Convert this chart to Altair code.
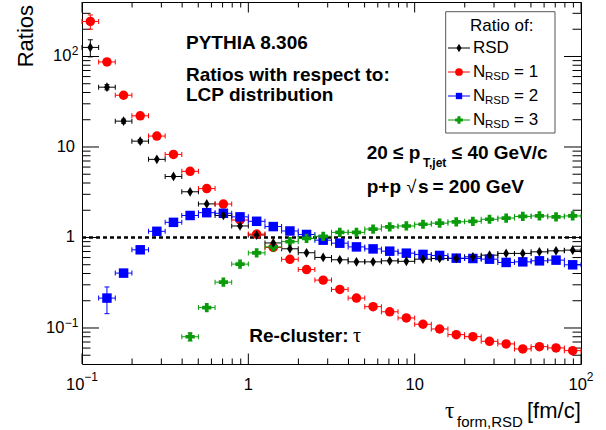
import altair as alt
import numpy as np
import pandas as pd

# ---------------- data ----------------
# 30 log-spaced bins of tau_form between 0.1 and 100 fm/c
bin_edges = np.logspace(-1, 2, 31)

rsd = [126, 45.8, 19.3, 11.6, 7.3, 4.72, 3.2, 2.35, 1.75, 1.34,
       1.065, 0.87, 0.75, 0.678, 0.602, 0.567, 0.538, 0.538, 0.552, 0.545,
       0.576, 0.586, 0.586, 0.611, 0.638, 0.667, 0.667, 0.694, 0.712, 0.725]
rsd_err = [27, 3, 1, 0.5, 0, 0, 0, 0, 0, 0,
           0, 0, 0, 0, 0, 0, 0, 0, 0, 0,
           0, 0, 0, 0, 0, 0, 0, 0, 0, 0]

n1 = [244, 87, 37.3, 22.1, 13.2, 8.28, 5.38, 3.47, 2.34, 1.56,
      1.09, 0.776, 0.574, 0.442, 0.338, 0.267, 0.214, 0.172, 0.151, 0.129,
      0.110, 0.0975, 0.0844, 0.0802, 0.0713, 0.0667, 0.0587, 0.0622, 0.0602, 0.0562]
n1_err = [44, 5, 0, 0, 0, 0, 0, 0, 0, 0,
          0, 0, 0, 0, 0, 0, 0, 0, 0, 0,
          0, 0, 0, 0, 0, 0, 0, 0, 0, 0]

n2 = [None, 0.214, 0.404, 0.731, 1.17, 1.47, 1.75, 1.88, 1.85, 1.69,
      1.51, 1.32, 1.18, 1.08, 0.934, 0.865, 0.787, 0.748, 0.706, 0.671,
      0.650, 0.633, 0.591, 0.586, 0.576, 0.530, 0.538, 0.552, 0.562, 0.499]
n2_err = [0, 0.07, 0.025, 0, 0, 0, 0, 0, 0, 0,
          0, 0, 0, 0, 0, 0, 0, 0, 0, 0,
          0, 0, 0, 0, 0, 0, 0, 0, 0, 0]

n3 = [None, None, None, None, None, None, 0.080, 0.168, 0.321, 0.508,
      0.676, 0.787, 0.90, 0.977, 1.03, 1.14, 1.14, 1.24, 1.31, 1.34,
      1.40, 1.44, 1.49, 1.51, 1.59, 1.64, 1.71, 1.73, 1.69, 1.73]
n3_err = [0, 0, 0, 0, 0, 0, 0.008, 0, 0, 0,
          0, 0, 0, 0, 0, 0, 0, 0, 0, 0,
          0, 0, 0, 0, 0, 0, 0, 0, 0, 0]

x_tick_major = [0.1, 1, 10, 100]
x_tick_minor = [0.2, 0.3, 0.4, 0.5, 0.6, 0.7, 0.8, 0.9,
                2, 3, 4, 5, 6, 7, 8, 9, 20, 30, 40, 50, 60, 70, 80, 90]
y_tick_major = [0.1, 1, 10, 100]
y_tick_minor = [0.05, 0.06, 0.07, 0.08, 0.09,
                0.2, 0.3, 0.4, 0.5, 0.6, 0.7, 0.8, 0.9,
                2, 3, 4, 5, 6, 7, 8, 9, 20, 30, 40, 50, 60, 70, 80, 90,
                200, 300]

# tick labels: base text and superscript
label_vals = [0.1, 1, 10, 100]
label_base = ["10", "1", "10", "10"]
label_sup = ["\u22121", "", "", "2"]

# ---------------- styling ----------------
W, H = 499, 362
FONT = "Liberation Sans"
GREEN = "#0a9a0a"
THIN_DIAMOND = "M0,-1L0.6,0L0,1L-0.6,0Z"
LBL = 16.5   # tick label size
SUP = 12     # superscript size

series = [
    # name, values, errors, color, shape, size, legend size
    ("RSD", rsd, rsd_err, "black", THIN_DIAMOND, 95, 70),
    ("N1", n1, n1_err, "#ff0000", "circle", 90, 60),
    ("N2", n2, n2_err, "#0000ff", "square", 90, 40),
    ("N3", n3, n3_err, GREEN, "cross", 85, 60),
]

xlo = bin_edges[:-1]
xhi = bin_edges[1:]
xc = np.sqrt(xlo * xhi)

xs = alt.Scale(type="log", domain=[0.1, 100], nice=False)
ys = alt.Scale(type="log", domain=[0.04, 400], nice=False)

xaxis = alt.Axis(values=x_tick_major, labels=False, domain=False, ticks=False,
                 tickSize=0, grid=False, title=None)
yaxis = alt.Axis(values=y_tick_major, labels=False, domain=False, ticks=False,
                 tickSize=0, grid=False, title=None)


def X(f):
    return alt.X(f"{f}:Q", scale=xs, axis=xaxis, title=None)


def Y(f):
    return alt.Y(f"{f}:Q", scale=ys, axis=yaxis, title=None)


layers = []


# frame ticks (inside, ROOT style)
def yticks(vals, length):
    df = pd.DataFrame({"v": vals})
    l = alt.Chart(df).mark_rule(color="black", strokeWidth=1).encode(
        y=Y("v"), x=alt.value(0), x2=alt.value(length))
    r = alt.Chart(df).mark_rule(color="black", strokeWidth=1).encode(
        y=Y("v"), x=alt.value(W - length), x2=alt.value(W))
    return [l, r]


def xticks(vals, length):
    df = pd.DataFrame({"v": vals})
    b = alt.Chart(df).mark_rule(color="black", strokeWidth=1).encode(
        x=X("v"), y=alt.value(H - length), y2=alt.value(H))
    t = alt.Chart(df).mark_rule(color="black", strokeWidth=1).encode(
        x=X("v"), y=alt.value(0), y2=alt.value(length))
    return [b, t]


layers += yticks(y_tick_major, 17) + yticks(y_tick_minor, 8.5)
layers += xticks(x_tick_major, 10.5) + xticks(x_tick_minor, 5.5)

# tick labels (with real superscripts)
XLAB_Y = 382.5
for v, b, s in zip(label_vals, label_base, label_sup):
    d = pd.DataFrame({"v": [v], "b": [b], "s": [s]})
    if s:
        wb = 0.556 * LBL * len(b)
        ws = (0.584 * SUP if s.startswith("\u2212") else 0) + 0.556 * SUP * len(s.lstrip("\u2212"))
        left = -(wb + ws) / 2
        # x axis
        layers.append(alt.Chart(d).mark_text(font=FONT, fontSize=LBL, align="left", dx=left,
                                             color="black").encode(
            x=X("v"), y=alt.value(XLAB_Y), text="b:N"))
        layers.append(alt.Chart(d).mark_text(font=FONT, fontSize=SUP, align="left", dx=left + wb,
                                             color="black").encode(
            x=X("v"), y=alt.value(XLAB_Y - 8), text="s:N"))
        # y axis
        layers.append(alt.Chart(d).mark_text(font=FONT, fontSize=SUP, align="right",
                                             baseline="alphabetic", dy=-1, color="black").encode(
            y=Y("v"), x=alt.value(-3.5), text="s:N"))
        layers.append(alt.Chart(d).mark_text(font=FONT, fontSize=LBL, align="right",
                                             baseline="middle", color="black").encode(
            y=Y("v"), x=alt.value(-3.5 - ws - 0.5), text="b:N"))
    else:
        layers.append(alt.Chart(d).mark_text(font=FONT, fontSize=LBL, align="center",
                                             color="black").encode(
            x=X("v"), y=alt.value(XLAB_Y), text="b:N"))
        layers.append(alt.Chart(d).mark_text(font=FONT, fontSize=LBL, align="right",
                                             baseline="middle", color="black").encode(
            y=Y("v"), x=alt.value(-7), text="b:N"))

# dashed reference line at 1
layers.append(
    alt.Chart(pd.DataFrame({"v": [1.0]})).mark_rule(
        color="black", strokeWidth=2.5, strokeDash=[4, 3]).encode(
        y=Y("v"), x=alt.value(0), x2=alt.value(W))
)

# error bars
for name, vals, errs, color, shape, size, lsize in series:
    rows = []
    for i, v in enumerate(vals):
        if v is None:
            continue
        rows.append({"x": xc[i], "xlo": xlo[i], "xhi": xhi[i], "y": v,
                     "ylo": max(v - errs[i], 0.041), "yhi": v + errs[i], "e": errs[i]})
    df = pd.DataFrame(rows)
    layers.append(alt.Chart(df).mark_rule(color=color, strokeWidth=1).encode(
        x=X("xlo"), x2=alt.X2("xhi"), y=Y("y")))
    caps = pd.concat([df[["xlo", "y"]].rename(columns={"xlo": "xc"}),
                      df[["xhi", "y"]].rename(columns={"xhi": "xc"})])
    layers.append(alt.Chart(caps).mark_tick(
        orient="vertical", size=5, thickness=1, color=color, opacity=1).encode(
        x=X("xc"), y=Y("y")))
    dfe = df[df["e"] > 0]
    if len(dfe):
        layers.append(alt.Chart(dfe).mark_rule(color=color, strokeWidth=1).encode(
            x=X("x"), y=Y("ylo"), y2=alt.Y2("yhi")))
        vc = pd.concat([dfe[["x", "ylo"]].rename(columns={"ylo": "yc"}),
                        dfe[["x", "yhi"]].rename(columns={"yhi": "yc"})])
        layers.append(alt.Chart(vc).mark_tick(
            orient="horizontal", size=5, thickness=1, color=color, opacity=1).encode(
            x=X("x"), y=Y("yc")))

# markers (drawing order: N1, N2, N3, RSD on top)
for idx in [1, 2, 3, 0]:
    name, vals, errs, color, shape, size, lsize = series[idx]
    df = pd.DataFrame({"x": [xc[i] for i, v in enumerate(vals) if v is not None],
                       "y": [v for v in vals if v is not None]})
    layers.append(alt.Chart(df).mark_point(
        shape=shape, size=size, filled=True, color=color, opacity=1, strokeWidth=0).encode(
        x=X("x"), y=Y("y")))


# ---------------- annotations ----------------
def txt(s, x, y, size, bold=False, font=FONT, align="left", baseline="alphabetic", angle=0):
    kw = dict(font=font, fontSize=size, align=align, baseline=baseline, color="black",
              fontWeight="bold" if bold else "normal")
    if angle:
        kw["angle"] = angle
    return alt.Chart(pd.DataFrame({"t": [s]})).mark_text(**kw).encode(
        text="t:N", x=alt.value(x), y=alt.value(y))


layers += [
    txt("PYTHIA 8.306", 104, 47, 19, bold=True),
    txt("Ratios with respect to:", 104, 78.7, 19, bold=True),
    txt("LCP distribution", 104, 99, 19, bold=True),
    txt("20 \u2264 p", 284.7, 157.3, 19, bold=True),
    txt("T,jet", 341, 164.7, 12, bold=True),
    txt("\u2264 40 GeV/c", 369.7, 157.3, 19, bold=True),
    txt("p+p", 284.7, 191.3, 19, bold=True),
    txt("\u221a", 324.5, 191.3, 18),
    txt("s", 336, 191.3, 19, bold=True),
    txt("= 200 GeV", 350.5, 191.3, 19, bold=True),
    txt("Re-cluster:", 167.3, 340, 19, bold=True),
    txt("\u03c4", 271, 340, 20, font="Liberation Serif"),
    # axis titles
    txt("\u03c4", 363, 415.5, 23, font="Liberation Serif"),
    txt("form,RSD", 375, 424.5, 15),
    txt("[fm/c]", 445, 415.5, 22),
    txt("Ratios", -49, 3, 22, align="right", angle=270),
]

# legend box
layers.append(alt.Chart(pd.DataFrame({"a": [0]})).mark_rect(
    fill="white", stroke="#555555", strokeWidth=1).encode(
    x=alt.value(363.7), x2=alt.value(473), y=alt.value(9.7), y2=alt.value(131)))
layers.append(txt("Ratio of:", 419.7, 24, 17, align="center", baseline="middle"))

leg_rows = [46, 70, 94, 118]
for (name, vals, errs, color, shape, size, lsize), ry in zip(series, leg_rows):
    layers.append(alt.Chart(pd.DataFrame({"a": [0]})).mark_rule(color=color, strokeWidth=1).encode(
        x=alt.value(366), x2=alt.value(388), y=alt.value(ry)))
    layers.append(alt.Chart(pd.DataFrame({"a": [0]})).mark_point(
        shape=shape, size=lsize, filled=True, color=color, opacity=1, strokeWidth=0).encode(
        x=alt.value(377), y=alt.value(ry)))
    if name == "RSD":
        layers.append(txt("RSD", 391, ry, 17, baseline="middle"))
    else:
        layers.append(txt("N", 391, ry, 17, baseline="middle"))
        layers.append(txt("RSD", 403, ry + 5, 11.5, baseline="middle"))
        layers.append(txt("= " + name[1], 432, ry, 17, baseline="middle"))

chart = alt.layer(*layers).properties(
    width=W, height=H,
    padding={"left": 82, "top": 2, "right": 25, "bottom": 66},
    autosize=alt.AutoSizeParams(type="none"),
    background="white",
).configure_view(stroke="black", strokeWidth=1)

chart.save("out.html", embed_options={"renderer": "svg", "actions": False})
